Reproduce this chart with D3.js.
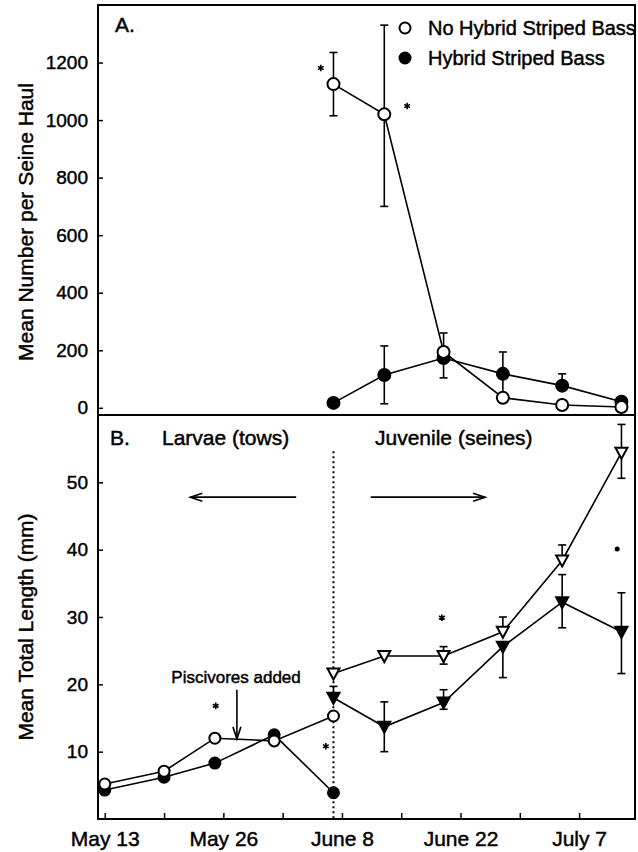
<!DOCTYPE html>
<html>
<head>
<meta charset="utf-8">
<script src="https://cdn.jsdelivr.net/npm/d3@7"></script>
<style>
  body { margin: 0; background: white; }
  text { font-family: "Liberation Sans", Arial, Helvetica, sans-serif; fill: black; stroke: black; stroke-width: 0.45px; }
</style>
</head>
<body>
<script>
// ---- data (days after May 13) ----
// Panel A: mean number per seine haul
const daysA = [27, 33, 40, 47, 54, 61];
const noHybridA = [1125, 1020, 194, 35, 10, 3];
const noHybridAHi = [1235, 1330, 260, null, null, null];
const noHybridALo = [1015, 700, null, null, null, null];
const hybridA = [17, 114, 173, 118, 77, 21];
const hybridAHi = [null, 215, null, 194, 118, null];
const hybridALo = [null, 14, 104, 40, null, null];

// Panel B: mean total length, larvae (tows)
const daysLarvae = [0, 7, 13, 20, 27];
const noHybridLarvae = [5.2, 7.1, 12.0, 11.6, 15.3];
const hybridLarvae = [4.3, 6.2, 8.3, 12.5, 3.9];

// Panel B: juveniles (seines)
const daysJuv = [27, 33, 40, 47, 54, 61];
const noHybridJuv = [21.6, 24.2, 24.2, 27.8, 38.4, 54.4];
const noHybridJuvHi = [null, null, 25.6, 30.0, 40.7, 58.6];
const noHybridJuvLo = [null, null, 23.0, null, null, 50.6];
const hybridJuv = [18.0, 13.7, 17.3, 25.6, 32.2, 27.8];
const hybridJuvHi = [19.7, 17.4, 19.2, null, 36.3, 33.6];
const hybridJuvLo = [null, 10.0, 16.3, 21.0, 28.4, 21.6];

// significance marks [day, value]
const starsA = [[25.5, 1181], [35.7, 1049]];
const starsB = [[13.1, 16.8], [26.1, 10.8], [39.8, 29.9]];
const dotsB = [[60.5, 40.1]];

// axis ticks
const xTickDays = [0, 7, 14, 21, 28, 35, 42, 49, 56];
const xTickLabels = { 0: "May 13", 14: "May 26", 28: "June 8", 42: "June 22", 56: "July 7" };
const yTicksA = [0, 200, 400, 600, 800, 1000, 1200];
const yTicksB = [10, 20, 30, 40, 50];

// ---- layout ----
const W = 638, H = 852;
const left = 98, right = 635;
const topA = 5, midY = 415, botB = 819;

const svg = d3.select("body").append("svg")
  .attr("width", W).attr("height", H);

const x = d3.scaleLinear().domain([-0.8, 62.6]).range([left, right]);
const yA = d3.scaleLinear().domain([-25, 1400]).range([midY, topA]);
const yB = d3.scaleLinear().domain([0, 60]).range([botB, midY]);

// frames
svg.append("rect").attr("x", left).attr("y", topA)
  .attr("width", right - left).attr("height", midY - topA)
  .attr("fill", "none").attr("stroke", "black").attr("stroke-width", 2);
svg.append("rect").attr("x", left).attr("y", midY)
  .attr("width", right - left).attr("height", botB - midY)
  .attr("fill", "none").attr("stroke", "black").attr("stroke-width", 2);

// y axes
function styleAxis(g) {
  g.select(".domain").remove();
  g.selectAll("line").attr("stroke", "black").attr("stroke-width", 1.5);
  g.selectAll("text").style("font-size", "19px").attr("fill", "black");
}
svg.append("g").attr("transform", "translate(" + left + ",0)")
  .call(d3.axisLeft(yA).tickValues(yTicksA).tickSize(-5).tickPadding(10).tickFormat(d3.format("d")))
  .call(styleAxis);
svg.append("g").attr("transform", "translate(" + left + ",0)")
  .call(d3.axisLeft(yB).tickValues(yTicksB).tickSize(-5).tickPadding(10).tickFormat(d3.format("d")))
  .call(styleAxis);

// x axis
svg.append("g").attr("transform", "translate(0," + botB + ")")
  .call(d3.axisBottom(x).tickValues(xTickDays).tickSize(-6).tickPadding(12)
    .tickFormat(d => xTickLabels[d] || ""))
  .call(styleAxis)
  .selectAll("text").style("font-size", "21px");

// axis titles
svg.append("text")
  .attr("transform", "translate(33," + 222 + ") rotate(-90)")
  .attr("text-anchor", "middle").style("font-size", "21px")
  .text("Mean Number per Seine Haul");
svg.append("text")
  .attr("transform", "translate(33," + 627 + ") rotate(-90)")
  .attr("text-anchor", "middle").style("font-size", "21px")
  .text("Mean Total Length (mm)");

// helpers
function drawLine(days, vals, yScale) {
  svg.append("path")
    .datum(days.map((d, i) => [d, vals[i]]))
    .attr("fill", "none").attr("stroke", "black").attr("stroke-width", 1.6)
    .attr("d", d3.line().x(d => x(d[0])).y(d => yScale(d[1])));
}
function drawErrors(days, vals, hi, lo, yScale) {
  const g = svg.append("g").attr("stroke", "black").attr("stroke-width", 1.6);
  days.forEach((d, i) => {
    [hi[i], lo[i]].forEach(e => {
      if (e == null) return;
      g.append("line").attr("x1", x(d)).attr("x2", x(d))
        .attr("y1", yScale(vals[i])).attr("y2", yScale(e));
      g.append("line").attr("x1", x(d) - 4).attr("x2", x(d) + 4)
        .attr("y1", yScale(e)).attr("y2", yScale(e));
    });
  });
}
function drawCircles(days, vals, yScale, filled, r) {
  svg.append("g").selectAll("circle")
    .data(days.map((d, i) => [d, vals[i]]))
    .join("circle")
    .attr("cx", d => x(d[0])).attr("cy", d => yScale(d[1])).attr("r", r)
    .attr("fill", filled ? "black" : "white")
    .attr("stroke", "black").attr("stroke-width", 2);
}
function drawTriangles(days, vals, yScale, filled) {
  svg.append("g").selectAll("path")
    .data(days.map((d, i) => [d, vals[i]]))
    .join("path")
    .attr("transform", d => "translate(" + x(d[0]) + "," + yScale(d[1]) + ")")
    .attr("d", "M-6,-5L6,-5L0,6Z")
    .attr("fill", filled ? "black" : "white")
    .attr("stroke", "black").attr("stroke-width", 2);
}

// ---- Panel A ----
drawLine(daysA, noHybridA, yA);
drawLine(daysA, hybridA, yA);
drawErrors(daysA, noHybridA, noHybridAHi, noHybridALo, yA);
drawErrors(daysA, hybridA, hybridAHi, hybridALo, yA);
drawCircles(daysA, hybridA, yA, true, 6);
drawCircles(daysA, noHybridA, yA, false, 6);

svg.append("text").attr("x", 115).attr("y", 32).style("font-size", "21px").text("A.");

// legend
const legend = svg.append("g");
legend.append("circle").attr("cx", 405).attr("cy", 28).attr("r", 5.5)
  .attr("fill", "white").attr("stroke", "black").attr("stroke-width", 2);
legend.append("circle").attr("cx", 405).attr("cy", 58).attr("r", 5.5)
  .attr("fill", "black").attr("stroke", "black").attr("stroke-width", 2);
legend.append("text").attr("x", 428).attr("y", 35).style("font-size", "20px").text("No Hybrid Striped Bass");
legend.append("text").attr("x", 428).attr("y", 65).style("font-size", "20px").text("Hybrid Striped Bass");

// ---- Panel B ----
// dotted separator
svg.append("line")
  .attr("x1", x(27)).attr("x2", x(27)).attr("y1", yB(54.6)).attr("y2", botB)
  .attr("stroke", "black").attr("stroke-width", 2).attr("stroke-dasharray", "2,3");

drawLine(daysLarvae, noHybridLarvae, yB);
drawLine(daysLarvae, hybridLarvae, yB);
drawLine(daysJuv, noHybridJuv, yB);
drawLine(daysJuv, hybridJuv, yB);
drawErrors(daysJuv, noHybridJuv, noHybridJuvHi, noHybridJuvLo, yB);
drawErrors(daysJuv, hybridJuv, hybridJuvHi, hybridJuvLo, yB);
drawCircles(daysLarvae, hybridLarvae, yB, true, 5.5);
drawCircles(daysLarvae, noHybridLarvae, yB, false, 5.5);
drawTriangles(daysJuv, noHybridJuv, yB, false);
drawTriangles(daysJuv, hybridJuv, yB, true);

svg.append("text").attr("x", 110).attr("y", 445).style("font-size", "21px").text("B.");
svg.append("text").attr("x", 162).attr("y", 445).style("font-size", "21px").text("Larvae (tows)");
svg.append("text").attr("x", 375).attr("y", 445).style("font-size", "21px").text("Juvenile (seines)");

// direction arrows
function arrow(d0, d1, v) {
  const g = svg.append("g").attr("stroke", "black").attr("stroke-width", 1.6).attr("fill", "none");
  const x0 = x(d0), x1 = x(d1), yy = yB(v);
  const dir = x1 > x0 ? 1 : -1;
  g.append("line").attr("x1", x0).attr("x2", x1).attr("y1", yy).attr("y2", yy);
  g.append("path").attr("d",
    "M" + (x1 - dir * 12) + "," + (yy - 4) + "L" + x1 + "," + yy + "L" + (x1 - dir * 12) + "," + (yy + 4));
}
arrow(22.6, 10.1, 47.8);
arrow(31.4, 44.9, 47.8);

// piscivores added
svg.append("text").attr("x", x(15.5)).attr("y", yB(20.2))
  .attr("text-anchor", "middle").style("font-size", "17px").text("Piscivores added");
const pa = svg.append("g").attr("stroke", "black").attr("stroke-width", 1.6).attr("fill", "none");
pa.append("line").attr("x1", x(15.6)).attr("x2", x(15.6)).attr("y1", yB(19.2)).attr("y2", yB(11.9));
pa.append("path").attr("d",
  "M" + (x(15.6) - 4) + "," + (yB(11.9) - 12) + "L" + x(15.6) + "," + yB(11.9) + "L" + (x(15.6) + 4) + "," + (yB(11.9) - 12));

// significance marks
const star = d3.symbol(d3.symbolAsterisk).size(30);
svg.append("g").selectAll("path")
  .data(starsA.map(d => [x(d[0]), yA(d[1])]).concat(starsB.map(d => [x(d[0]), yB(d[1])])))
  .join("path")
  .attr("transform", d => "translate(" + d[0] + "," + d[1] + ")")
  .attr("d", star).attr("stroke", "black").attr("stroke-width", 1.6).attr("fill", "none");
svg.append("g").selectAll("circle")
  .data(dotsB).join("circle")
  .attr("cx", d => x(d[0])).attr("cy", d => yB(d[1])).attr("r", 2.5).attr("fill", "black");
</script>
</body>
</html>
